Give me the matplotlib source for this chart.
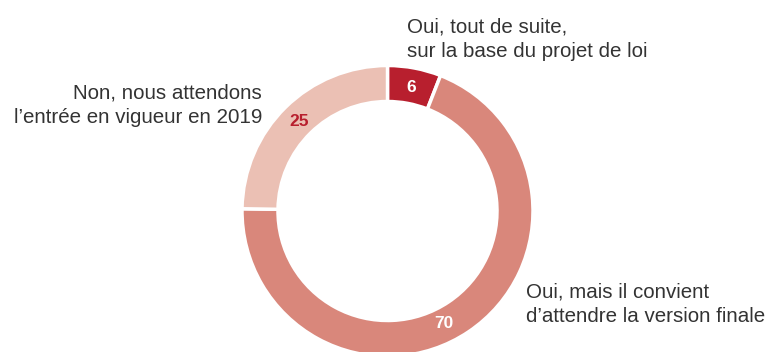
import numpy as np
import matplotlib.pyplot as plt

# Réponses (en %), sens horaire depuis le haut
valeurs = [6, 70, 25]
etiquettes = [
    "Oui, tout de suite,\nsur la base du projet de loi",
    "Oui, mais il convient\nd\u2019attendre la version finale",
    "Non, nous attendons\nl\u2019entrée en vigueur en 2019",
]
couleurs = ["#b81f2e", "#d9877b", "#ebc0b4"]
couleurs_valeurs = ["white", "white", "#b81f2e"]
# position du chiffre le long de chaque secteur, dans le sens horaire (0 = début, 1 = fin)
pos_valeurs = [0.5, 0.53, 0.5]

plt.rcParams["font.family"] = ["Liberation Sans", "DejaVu Sans"]

fig = plt.figure(figsize=(7.69, 3.52), dpi=100)
ax = fig.add_axes([0, 0, 1, 1])

cx, cy = 387.5, 141
r_ext, largeur = 145.5, 36

wedges, _ = ax.pie(
    valeurs,
    colors=couleurs,
    startangle=90,
    counterclock=False,
    center=(cx, cy),
    radius=r_ext,
    wedgeprops=dict(width=largeur, edgecolor="white", linewidth=2.5),
    frame=True,
)
ax.set_xlim(0, 769)
ax.set_ylim(0, 352)
ax.set_aspect("equal")
ax.axis("off")

r_txt = 126
for w, v, c, p in zip(wedges, valeurs, couleurs_valeurs, pos_valeurs):
    ang = np.deg2rad(w.theta2 - (w.theta2 - w.theta1) * p)
    ax.text(cx + r_txt * np.cos(ang), cy + r_txt * np.sin(ang), str(v),
            color=c, fontsize=12.5, fontweight="bold", ha="center", va="center")

style = dict(fontsize=14.8, color="#333333", linespacing=1.38)
ax.text(407, 312.5, etiquettes[0], ha="left", va="center", **style)
ax.text(526, 48, etiquettes[1], ha="left", va="center", **style)
ax.text(262, 247, etiquettes[2], ha="right", va="center", **style)

fig.savefig("out.png", dpi=100)
